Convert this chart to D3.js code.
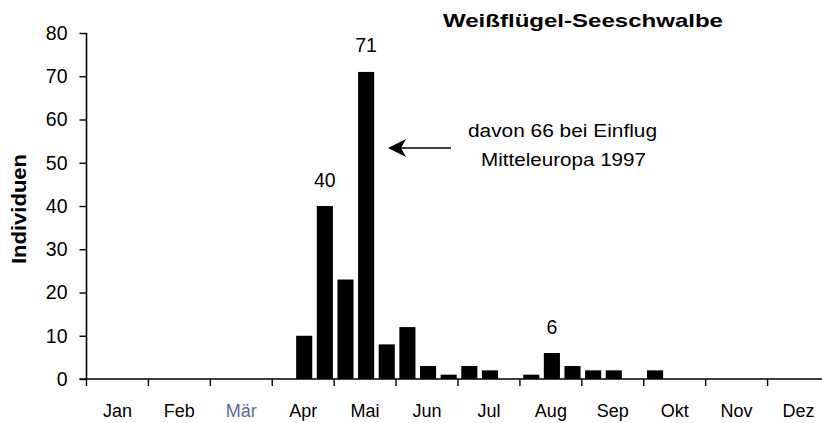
<!DOCTYPE html>
<html>
<head>
<meta charset="utf-8">
<script src="https://cdn.jsdelivr.net/npm/d3@7"></script>
<style>
  body { margin: 0; background: #fff; }
  svg { display: block; font-family: "Liberation Sans", Arial, sans-serif; }
</style>
</head>
<body>
<div id="chart"></div>
<script>
// Weißflügel-Seeschwalbe - Individuen pro Monatsdekade

const months = ["Jan", "Feb", "Mär", "Apr", "Mai", "Jun", "Jul", "Aug", "Sep", "Okt", "Nov", "Dez"];
const decades = ["1", "2", "3"];

// one value per decade (3 per month)
const counts = [
  0, 0, 0,    // Jan
  0, 0, 0,    // Feb
  0, 0, 0,    // Mär
  0, 10, 40,  // Apr
  23, 71, 8,  // Mai
  12, 3, 1,   // Jun
  3, 2, 0,    // Jul
  1, 6, 3,    // Aug
  2, 2, 0,    // Sep
  2, 0, 0,    // Okt
  0, 0, 0,    // Nov
  0, 0, 0     // Dez
];

const yTicks = [0, 10, 20, 30, 40, 50, 60, 70, 80];
const labelled = [11, 13, 22]; // slots with a value label above the bar

const width = 822, height = 423;
const plotLeft = 86.5, plotRight = 829.5, plotTop = 33, plotBottom = 379;

const slots = months.flatMap(m => decades.map(d => m + d));
const data = slots.map((s, i) => ({ slot: s, month: months[Math.floor(i / 3)], value: counts[i] }));

const svg = d3.select("#chart").append("svg")
  .attr("width", width)
  .attr("height", height);

const x = d3.scaleBand()
  .domain(slots)
  .range([plotLeft + 1, plotRight + 1])
  .paddingInner(0.22)
  .paddingOuter(0.11);

const xMonth = d3.scaleBand()
  .domain(months)
  .range([plotLeft, plotRight]);

const y = d3.scaleLinear()
  .domain([0, 80])
  .range([plotBottom, plotTop]);

// bars
svg.append("g")
  .selectAll("rect")
  .data(data.filter(d => d.value > 0))
  .enter().append("rect")
  .attr("x", d => x(d.slot))
  .attr("width", x.bandwidth())
  .attr("y", d => y(d.value))
  .attr("height", d => y(0) - y(d.value))
  .attr("fill", "#000");

// y axis
const yAxis = svg.append("g")
  .attr("transform", `translate(${plotLeft},0)`)
  .call(d3.axisLeft(y).tickValues(yTicks).tickSize(7).tickPadding(12));
yAxis.select(".domain").attr("stroke-width", 1.6).attr("d", `M0,${plotTop}V${plotBottom}`);
yAxis.selectAll(".tick line").attr("stroke-width", 1.4);
yAxis.selectAll(".tick text")
  .attr("font-size", 19.5)
  .attr("font-family", "Liberation Sans, Arial, sans-serif")
  .attr("fill", "#000");

// x axis: month ticks
const xAxis = svg.append("g")
  .attr("transform", `translate(0,${plotBottom})`)
  .call(d3.axisBottom(xMonth)
    .tickValues([])
    .tickSizeOuter(0));
xAxis.select(".domain").attr("stroke-width", 1.6).attr("d", `M${plotLeft - 7},0H${width}`);

xAxis.selectAll(".mtick")
  .data(months)
  .enter().append("line")
  .attr("class", "mtick")
  .attr("x1", d => xMonth(d))
  .attr("x2", d => xMonth(d))
  .attr("y1", 0)
  .attr("y2", 7)
  .attr("stroke", "#000")
  .attr("stroke-width", 1.4);

svg.append("g")
  .selectAll("text")
  .data(months)
  .enter().append("text")
  .attr("x", d => xMonth(d) + xMonth.bandwidth() / 2)
  .attr("y", 417)
  .attr("text-anchor", "middle")
  .attr("font-size", 18)
  .attr("fill", d => d === "Mär" ? "#5b6a9e" : "#000")
  .text(d => d);

// value labels
svg.append("g")
  .selectAll("text")
  .data(labelled.map(i => data[i]))
  .enter().append("text")
  .attr("x", d => x(d.slot) + x.bandwidth() / 2)
  .attr("y", d => y(d.value) - 19.5)
  .attr("text-anchor", "middle")
  .attr("font-size", 19.5)
  .text(d => d.value);

// y axis title
svg.append("text")
  .attr("transform", "translate(26,209) rotate(-90)")
  .attr("text-anchor", "middle")
  .attr("font-size", 19.5)
  .attr("font-weight", "bold")
  .attr("textLength", 110)
  .attr("lengthAdjust", "spacingAndGlyphs")
  .text("Individuen");

// title
svg.append("text")
  .attr("x", 443)
  .attr("y", 26.7)
  .attr("font-size", 18.5)
  .attr("font-weight", "bold")
  .attr("textLength", 280)
  .attr("lengthAdjust", "spacingAndGlyphs")
  .text("Weißflügel-Seeschwalbe");

// annotation
svg.append("text")
  .attr("x", 468)
  .attr("y", 137.3)
  .attr("font-size", 17.5)
  .attr("textLength", 189)
  .attr("lengthAdjust", "spacingAndGlyphs")
  .text("davon 66 bei Einflug");

svg.append("text")
  .attr("x", 481)
  .attr("y", 165.7)
  .attr("font-size", 17.5)
  .attr("textLength", 165)
  .attr("lengthAdjust", "spacingAndGlyphs")
  .text("Mitteleuropa 1997");

// arrow pointing at the 71 bar
svg.append("line")
  .attr("x1", 451).attr("y1", 148)
  .attr("x2", 394).attr("y2", 148)
  .attr("stroke", "#000")
  .attr("stroke-width", 1.6);

svg.append("path")
  .attr("d", "M388,148L406,139L401,148L406,157Z")
  .attr("fill", "#000");
</script>
</body>
</html>
